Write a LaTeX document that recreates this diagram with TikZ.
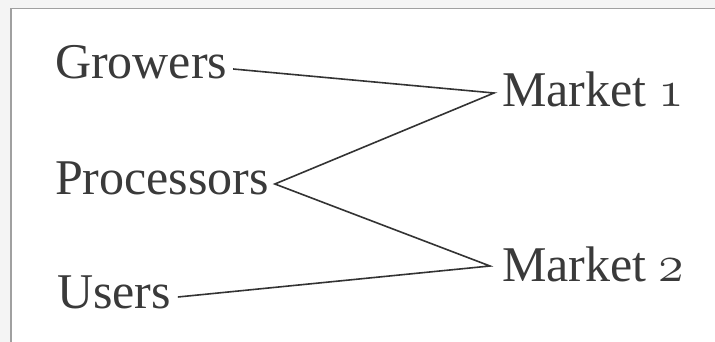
\RequirePackage{fix-cm}
\documentclass[tikz,border=0pt]{standalone}
\usepackage{fontspec}
\setmainfont{Liberation Serif}
\newcommand\osnum[1]{{\usefont{OML}{cmm}{m}{it}\fontsize{52}{56}\selectfont #1}}
\begin{document}
\begin{tikzpicture}[x=1pt,y=-1pt,
  lbl/.style={anchor=base west,inner ysep=0pt,inner xsep=0pt,outer sep=0pt,text=txtc,font=\fontsize{50}{54}\selectfont},
  link/.style={draw=linec,line width=1.6pt,line join=miter}]
\definecolor{txtc}{HTML}{3A3A3A}
\definecolor{linec}{HTML}{333333}
\definecolor{framec}{HTML}{A0A0A0}
\definecolor{outc}{HTML}{F4F4F4}
\fill[outc] (0,0) rectangle (715,342);
\useasboundingbox (0,0) rectangle (715,342);
\fill[white] (11,8.5) rectangle (715,342);
\draw[framec,line width=1.5pt] (11,342) -- (11,8.5) -- (715,8.5);
\node[lbl] (g) at (55,79) {Growers};
\node[lbl] (p) at (55,194) {Processors};
\node[lbl] (u) at (57,308) {Users};
\node[lbl] (m1) at (502,107) {Market \osnum{1}};
\node[lbl] (m2) at (502,281) {Market \osnum{2}};
\coordinate (m1a) at ([xshift=-8pt,yshift=14pt]m1.base west);
\coordinate (m2a) at ([xshift=-12pt,yshift=15pt]m2.base west);
\coordinate (pa) at ([xshift=6pt,yshift=10pt]p.base east);
\draw[link] ([xshift=6pt,yshift=10pt]g.base east) -- (m1a) -- (pa) -- (m2a) -- ([xshift=7pt,yshift=11pt]u.base east);
\end{tikzpicture}
\end{document}
